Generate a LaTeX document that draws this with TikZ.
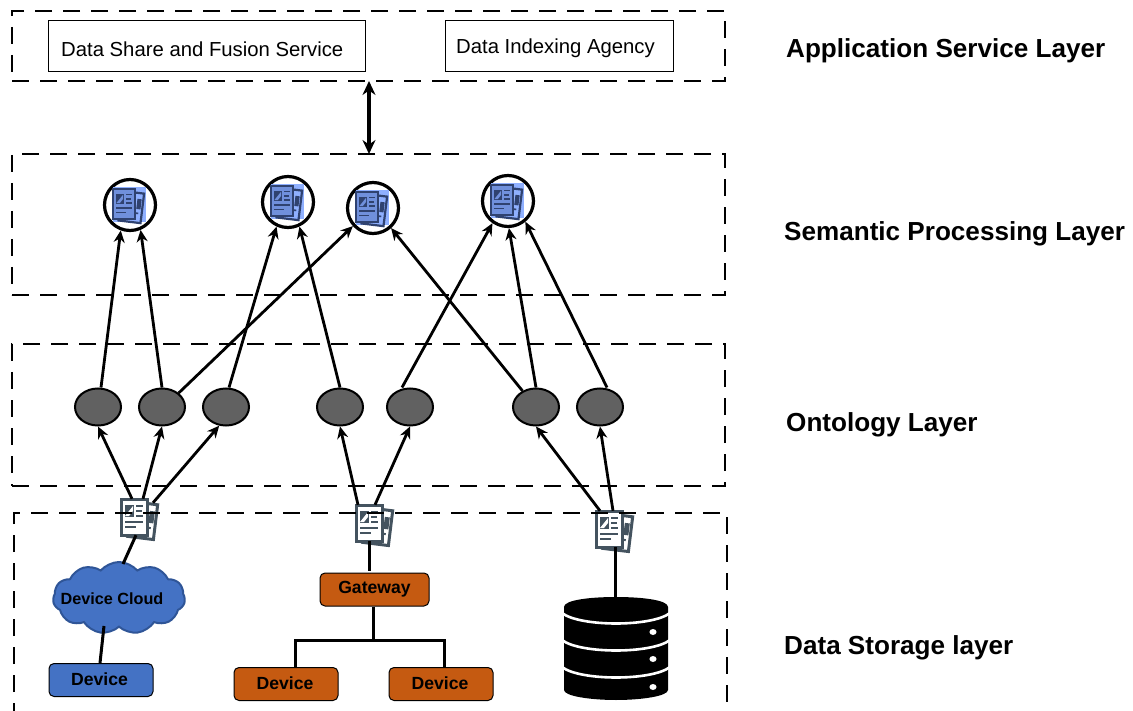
\documentclass[tikz,border=0pt]{standalone}
\usepackage{fontspec}
\setmainfont{Liberation Sans}
\usetikzlibrary{shapes.geometric,shapes.symbols,arrows.meta}
\definecolor{docline}{HTML}{44535F}
\definecolor{cblue}{HTML}{4472C4}
\definecolor{cblueline}{HTML}{2F5597}
\definecolor{corange}{HTML}{C55A11}
\definecolor{squareblue}{HTML}{8FB0FF}
\definecolor{docblue}{HTML}{7090DC}
\definecolor{doclineblue}{HTML}{2F4270}
\newcommand{\docicon}[8]{% name, x, y, scale, paper, line, line width, back paper
  \begin{scope}[shift={(#2,#3)},scale=#4]
    \begin{scope}[rotate=-7]
      \draw[draw=#6,fill=#8,line width=#7] (-4,-15) rectangle (22,20);
      \fill[#6] (15,-8) rectangle (20,4);
      \fill[#6] (15,8) rectangle (18,10);
    \end{scope}
    \draw[draw=#6,fill=#5,line width=#7] (-13,-18) rectangle (13,18);
    \fill[#6] (-9,-12) rectangle (0,0);
    \fill[#5] (-9,-1) -- (-1,-11) -- (-1,-6) -- (-5,-1) -- cycle;
    \fill[#6] (2,-12) rectangle (9,-10);
    \fill[#6] (2,-7) rectangle (8,-5);
    \fill[#6] (2,-2) rectangle (9,0);
    \fill[#6] (-9,4) rectangle (9,6);
    \fill[#6] (-9,9) rectangle (2,11);
  \end{scope}
  \node[minimum width=26*#4pt,minimum height=36*#4pt,inner sep=0pt] (#1) at (#2,#3) {};
}
\tikzset{
  x=1pt,y=-1pt,
  layer/.style={draw=black,line width=2.7pt,dash pattern=on 17pt off 11pt,inner sep=0pt,outer sep=0pt,anchor=north west},
  lbl/.style={font=\fontsize{26.1}{30}\selectfont\bfseries,anchor=west,inner sep=0pt},
  svc/.style={draw=black,line width=1pt,fill=white,inner sep=0pt,anchor=north west,font=\fontsize{20.3}{24}\selectfont},
  sem/.style={circle,draw=black,line width=3.2pt,minimum size=51pt,inner sep=0pt},
  onto/.style={ellipse,draw=black,line width=2pt,fill=black!62,minimum width=46pt,minimum height=37pt,inner sep=0pt},
  conn/.style={line width=2.8pt,-{Stealth[length=12pt,width=11pt]}},
  link/.style={line width=3pt},
  dev/.style={rounded corners=5pt,draw=black,line width=1pt,minimum width=104pt,minimum height=33pt,inner sep=0pt,font=\fontsize{17.6}{20}\selectfont\bfseries},
}
\begin{document}
\begin{tikzpicture}
\useasboundingbox (0,0) rectangle (1133,711);
% document icons of the storage layer
\docicon{d1}{134}{517}{1}{white}{docline}{3pt}{white}
\docicon{d2}{369}{523}{1}{white}{docline}{3pt}{white}
\docicon{d3}{609}{529}{1}{white}{docline}{3pt}{white}
% layers
\node[layer,minimum width=713pt,minimum height=70pt] (app) at (12,11) {};
\node[layer,minimum width=713pt,minimum height=141pt] (semantic) at (12,154) {};
\node[layer,minimum width=713pt,minimum height=142pt] (onto) at (12,344) {};
\draw[draw=black,line width=2.7pt,dash pattern=on 17pt off 11pt] (14,720) -- (14,513) -- (727,513) -- (727,720);
% service boxes
\node[svc,minimum width=317pt,minimum height=51pt] (share) at (48,20) {};
\node[anchor=west,inner sep=0pt,font=\fontsize{20.3}{24}\selectfont] at (61,49.5) {Data Share and Fusion Service};
\node[svc,minimum width=228pt,minimum height=51pt] (index) at (445,20) {};
\node[anchor=west,inner sep=0pt,font=\fontsize{20.3}{24}\selectfont] at (456,48.5) {Data Indexing Agency};
% layer labels
\node[lbl] (l1) at (786,51) {Application Service Layer};
\node[lbl] (l2) at (784,234) {Semantic Processing Layer};
\node[lbl] (l3) at (786,425) {Ontology Layer};
\node[lbl] (l4) at (784,648) {Data Storage layer};
% semantic circles
\foreach \n/\x/\y in {c1/130/205,c2/288/202,c3/373/208,c4/508/201}{
  \node[sem,fill=white] (\n) at (\x,\y) {};
  \fill[squareblue] (\x-17,\y-18) rectangle (\x+16,\y+17);
  \docicon{i\n}{\x-6}{\y-1}{0.85}{docblue}{doclineblue}{2.2pt}{squareblue}
}
% ontology nodes
\foreach \n/\x in {e1/98,e2/162,e3/226,e4/340,e5/410,e6/536,e7/600}{
  \node[onto] (\n) at (\x,407) {};
}
% ontology -> semantic
\draw[conn] ([xshift=3pt]e1.north) -- (c1.250);
\draw[conn] (e2.north) -- (c1.293);
\draw[conn] (e2.40) -- (c3.222);
\draw[conn] ([xshift=3pt]e3.north) -- (c2.245);
\draw[conn] (e4.north) -- (c2.295);
\draw[conn] ([xshift=-8pt]e5.north) -- (c4.235);
\draw[conn] (e6.north) -- (c4.272);
\draw[conn] (e6.130) -- (c3.312);
\draw[conn] ([xshift=7pt]e7.north) -- (c4.310);
% docs -> ontology
\draw[conn] ([xshift=-2pt]d1.north) -- (e1.south);
\draw[conn] ([xshift=9pt]d1.north) -- (e2.south);
\draw[conn] ([xshift=19pt,yshift=-4pt]d1.north) -- (e3.250);
\draw[conn] ([xshift=-11pt]d2.north) -- (e4.south);
\draw[conn] ([xshift=6pt]d2.north) -- (e5.south);
\draw[conn] ([xshift=-9pt]d3.north) -- (e6.south);
\draw[conn] ([xshift=4pt]d3.north) -- (e7.south);
% double arrow between application and semantic layers
\draw[line width=3.5pt,{Stealth[length=14pt,width=13pt]}-{Stealth[length=14pt,width=13pt]}] ([xshift=0.5pt]app.south) -- ([xshift=0.5pt]semantic.north);
% device cloud branch
\node[cloud,cloud puffs=11,cloud puff arc=100,aspect=1.8,draw=cblueline,line width=2pt,fill=cblue,minimum width=132pt,minimum height=72pt,inner sep=0pt] (cloud) at (119,598) {};
\node[inner sep=0pt,font=\fontsize{16.2}{18}\selectfont\bfseries] at (112,599) {Device Cloud};
\node[dev,fill=cblue] (dev1) at (101,680) {\raisebox{1pt}{\hspace*{-3pt}Device}};
\draw[link] ([xshift=2pt]d1.south) -- ([xshift=4pt,yshift=-3pt]cloud.north);
\draw[link] ([xshift=-15pt,yshift=2pt]cloud.south) -- ([xshift=-1pt]dev1.north);
% gateway branch
\node[dev,fill=corange,minimum width=109pt] (gw) at (374.5,589.5) {\raisebox{-1.5pt}{Gateway}};
\node[dev,fill=corange] (dev2) at (286,684) {\raisebox{1pt}{\hspace*{-2pt}Device}};
\node[dev,fill=corange] (dev3) at (441,684) {\raisebox{1pt}{\hspace*{-2pt}Device}};
\coordinate (junction) at (373,640);
\draw[link] (d2.south) -- ([xshift=-5.5pt,yshift=2pt]gw.north);
\draw[link] ([xshift=-1.5pt]gw.south) -- (junction);
\draw[link] ([xshift=9pt]dev2.north) |- (junction);
\draw[link] ([xshift=3pt]dev3.north) |- (junction);
% database
\node[minimum width=104pt,minimum height=103pt,inner sep=0pt] (db) at (616,648.5) {};
\fill[black] (564,607) .. controls (564,600) and (590,597) .. (616,597) .. controls (642,597) and (668,600) .. (668,607) -- (668,690) .. controls (668,696) and (642,700) .. (616,700) .. controls (590,700) and (564,696) .. (564,690) -- cycle;
\foreach \t in {613,640,667}{
  \draw[white,line width=2.6pt] (562,\t) .. controls (580,\t+14) and (652,\t+14) .. (670,\t);
}
\foreach \t in {632,659,687}{
  \fill[white] (653,\t) ellipse (3.6 and 3);
}
\draw[link] ([xshift=6.5pt]d3.south) -- ([xshift=-0.5pt]db.north);
\end{tikzpicture}
\end{document}
